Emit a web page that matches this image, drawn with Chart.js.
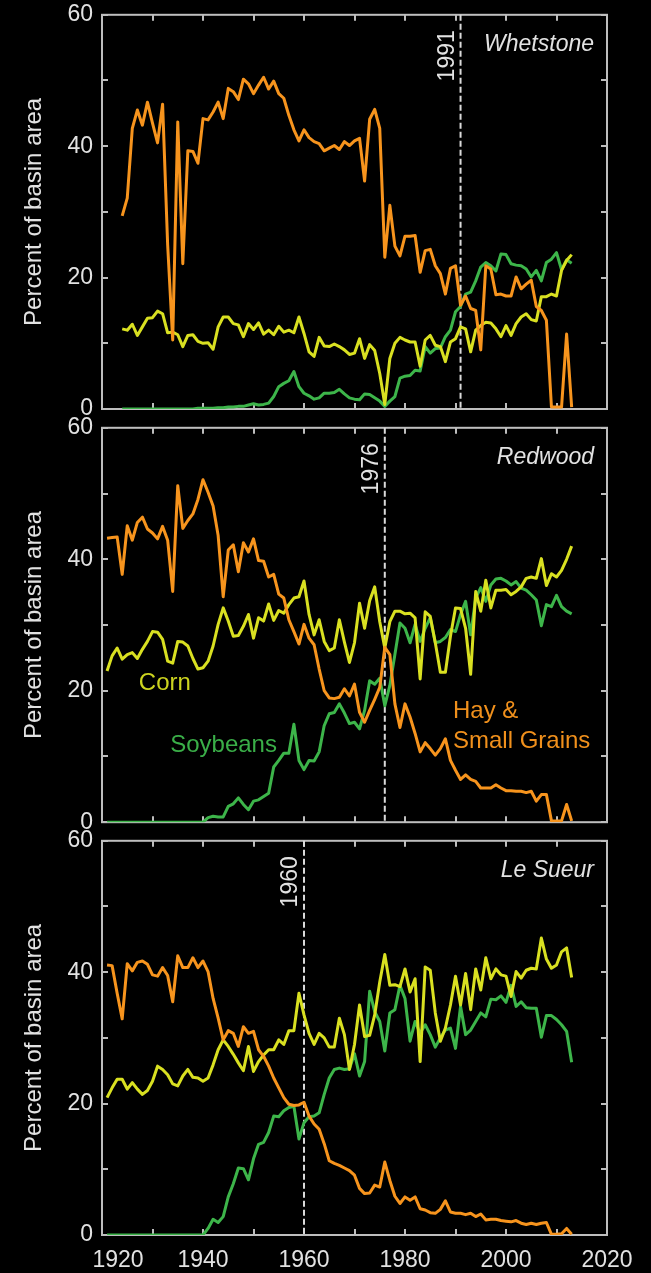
<!DOCTYPE html>
<html>
<head>
<meta charset="utf-8">
<script src="https://cdn.jsdelivr.net/npm/chart.js@4.4.1/dist/chart.umd.min.js"></script>
<style>
  html, body { margin: 0; padding: 0; background: #000; }
  body { width: 651px; height: 1273px; position: relative; overflow: hidden; }
  .panel { position: absolute; left: 0; width: 651px; }
  .panel canvas { display: block; }
</style>
</head>
<body>
<div class="panel" style="top:-8px"><canvas id="whetstone" width="651" height="440"></canvas></div>
<div class="panel" style="top:405px"><canvas id="redwood" width="651" height="440"></canvas></div>
<div class="panel" style="top:818px"><canvas id="lesueur" width="651" height="455"></canvas></div>

<script>
// Percent of basin area in hay & small grains, corn and soybeans, by year.

const HAY = '#F7941D';
const CORN = '#D9E021';
const SOY = '#3DB54A';
const FRAME = '#BEBEBE';
const TEXT = '#E2E2E2';
const FONT = '"Liberation Sans", Arial, Helvetica, sans-serif';

// ====== DATA ======

const yearsWhetstone = Array.from({ length: 90 }, (_, i) => 1924 + i);
const yearsRedwood = Array.from({ length: 93 }, (_, i) => 1921 + i);
const yearsLeSueur = Array.from({ length: 93 }, (_, i) => 1921 + i);

const hayWhetstone = [
  29.4, 32.1, 42.7, 45.5, 43.2, 46.7, 43.5, 40.5, 46.4, 25.0,
  10.5, 43.7, 22.1, 39.3, 39.2, 37.4, 44.2, 44.0, 45.2, 46.7,
  44.2, 48.8, 48.3, 47.1, 50.2, 49.5, 48.0, 49.3, 50.5, 48.7,
  49.9, 48.0, 47.3, 44.7, 42.5, 40.8, 42.5, 41.3, 40.7, 40.4,
  39.3, 39.7, 40.1, 39.5, 40.7, 40.1, 40.8, 41.2, 34.7, 44.1,
  45.6, 42.7, 23.1, 31.0, 24.8, 23.3, 26.3, 26.3, 26.4, 20.8,
  24.1, 24.3, 21.8, 20.6, 17.5, 21.4, 21.8, 15.8, 17.2, 15.3,
  15.0, 9.0, 21.8, 21.3, 17.4, 17.5, 17.2, 17.2, 20.1, 18.3,
  19.0, 19.6, 15.6, 15.0, 13.5, 0.3, 0.3, 0.3, 11.4, 0.3
];
const cornWhetstone = [
  12.2, 12.0, 12.9, 11.2, 12.5, 13.8, 13.9, 14.9, 14.5, 11.6,
  11.7, 11.3, 9.5, 11.2, 11.3, 10.3, 10.0, 10.1, 9.1, 12.5,
  14.0, 14.0, 13.0, 12.8, 11.0, 13.0, 12.1, 13.1, 11.4, 12.0,
  11.3, 12.6, 11.7, 12.0, 11.6, 14.0, 11.5, 8.7, 8.0, 10.9,
  9.6, 9.5, 9.9, 9.5, 9.0, 8.3, 8.5, 10.7, 7.7, 9.8,
  8.9, 5.4, 0.7, 7.7, 10.0, 10.9, 10.5, 10.2, 10.2, 6.5,
  10.5, 11.2, 9.7, 9.5, 7.2, 10.2, 10.7, 12.5, 12.2, 8.7,
  12.0, 12.7, 13.2, 13.1, 12.2, 11.0, 12.7, 11.2, 13.0, 14.0,
  14.5, 13.6, 13.4, 17.1, 17.1, 17.5, 17.2, 21.1, 22.6, 23.5
];
const soyWhetstone = [
  0, 0, 0, 0, 0, 0, 0, 0, 0, 0,
  0, 0, 0, 0, 0, 0.1, 0.1, 0.1, 0.1, 0.2,
  0.2, 0.3, 0.3, 0.4, 0.4, 0.6, 0.8, 0.6, 0.7, 0.9,
  1.9, 3.4, 3.9, 4.3, 5.7, 3.4, 2.4, 2.0, 1.5, 1.7,
  2.4, 2.4, 2.5, 3.0, 2.3, 1.7, 1.5, 1.4, 2.3, 2.2,
  1.7, 1.2, 0.4, 1.2, 1.9, 4.7, 5.0, 5.1, 5.9, 5.8,
  9.5, 8.5, 9.2, 9.3, 11.0, 12.0, 14.8, 15.6, 17.5, 17.8,
  19.5, 21.6, 22.3, 21.8, 21.0, 23.6, 23.5, 22.1, 21.9, 21.8,
  21.3, 20.1, 21.1, 19.5, 22.3, 22.8, 23.8, 21.2, 22.7, 22.2
];

const hayRedwood = [
  43.2, 43.3, 43.4, 37.7, 45.1, 42.9, 45.6, 46.4, 44.6, 44.0,
  43.1, 45.0, 42.9, 35.1, 51.2, 44.7, 45.9, 46.9, 49.1, 52.1,
  50.2, 48.1, 43.6, 34.3, 41.4, 42.2, 38.1, 42.5, 41.1, 43.1,
  39.8, 39.7, 37.3, 37.7, 34.7, 34.1, 30.8, 29.0, 27.1, 30.1,
  28.0, 27.0, 23.3, 20.0, 18.9, 18.8, 19.0, 20.3, 19.2, 21.0,
  16.7, 15.2, 17.0, 18.7, 20.5, 26.6, 25.5, 18.0, 14.4, 18.0,
  16.0, 13.5, 10.7, 12.1, 11.2, 10.2, 11.2, 12.7, 9.4, 7.9,
  6.5, 7.2, 6.5, 6.2, 5.2, 5.2, 5.2, 5.7, 5.2, 4.8,
  4.8, 4.7, 4.7, 4.5, 4.7, 3.2, 4.2, 4.2, 0.2, 0.2,
  0.2, 2.7, 0.2
];
const cornRedwood = [
  23.0, 25.3, 26.5, 24.8, 25.5, 25.8, 24.9, 26.3, 27.5, 29.0,
  28.9, 27.8, 24.5, 24.2, 27.5, 27.4, 26.8, 24.9, 23.3, 23.5,
  24.5, 26.8, 30.1, 32.6, 30.6, 28.3, 28.4, 29.8, 31.6, 28.0,
  31.1, 30.6, 33.2, 30.7, 32.2, 31.8, 33.1, 34.1, 34.3, 36.7,
  31.6, 28.5, 30.8, 27.5, 26.1, 26.5, 30.8, 27.4, 24.3, 27.3,
  33.3, 29.5, 33.7, 35.8, 30.5, 26.5, 30.5, 32.1, 32.1, 31.7,
  31.8, 31.1, 21.8, 32.0, 31.3, 27.3, 22.8, 22.8, 28.3, 32.6,
  32.5, 29.5, 22.5, 35.1, 32.1, 36.8, 32.6, 35.3, 35.3, 35.4,
  34.6, 35.1, 35.8, 37.1, 37.3, 37.1, 40.1, 36.0, 37.8, 37.3,
  38.3, 40.0, 42.0
];
const soyRedwood = [
  0, 0, 0, 0, 0, 0, 0, 0, 0, 0,
  0, 0, 0, 0, 0, 0, 0, 0, 0, 0,
  0.7, 0.9, 0.8, 0.8, 2.4, 2.8, 3.7, 2.7, 1.9, 3.2,
  3.4, 3.9, 4.4, 8.4, 9.4, 10.5, 10.5, 14.9, 9.4, 8.0,
  9.4, 9.3, 10.7, 14.7, 16.5, 16.7, 18.0, 16.6, 15.0, 15.2,
  14.2, 17.0, 21.5, 21.0, 21.9, 17.7, 20.8, 25.5, 30.3, 29.5,
  27.3, 30.1, 27.5, 29.5, 31.1, 27.3, 27.5, 28.1, 29.3, 29.0,
  31.6, 33.6, 28.5, 34.1, 35.7, 33.6, 36.1, 37.0, 37.1, 36.7,
  36.1, 36.6, 35.6, 35.3, 34.6, 33.8, 29.9, 33.1, 32.8, 34.5,
  32.8, 32.1, 31.7
];

const hayLeSueur = [
  41.1, 41.0, 36.8, 32.9, 41.3, 40.2, 41.5, 41.7, 41.2, 39.6,
  39.4, 40.7, 39.5, 35.5, 42.5, 40.7, 40.7, 42.2, 40.7, 41.7,
  40.1, 36.0, 33.0, 29.7, 31.1, 30.7, 28.7, 31.7, 30.7, 31.0,
  28.2, 27.2, 25.7, 23.9, 22.4, 20.9, 19.9, 19.7, 19.8, 20.2,
  18.1, 16.9, 16.1, 13.9, 11.3, 10.9, 10.6, 10.2, 9.8, 9.1,
  7.1, 6.3, 6.4, 7.6, 7.3, 11.1, 8.3, 5.9, 4.8, 5.8,
  5.3, 5.8, 4.0, 3.8, 3.4, 3.3, 3.9, 5.2, 3.5, 3.3,
  3.3, 3.1, 3.3, 2.8, 3.2, 2.3, 2.4, 2.4, 2.2, 2.1,
  2.0, 2.2, 1.8, 1.6, 1.8, 1.6, 1.8, 1.9, 0.1, 0.1,
  0.2, 1.0, 0.1
];
const cornLeSueur = [
  20.9, 22.4, 23.7, 23.7, 22.2, 23.2, 22.2, 21.4, 22.0, 23.4,
  25.7, 25.2, 24.4, 23.0, 22.7, 24.2, 25.2, 24.0, 23.9, 23.4,
  23.9, 25.9, 28.2, 29.7, 28.7, 27.5, 26.2, 25.0, 28.7, 24.9,
  26.4, 27.4, 28.2, 28.2, 29.7, 29.0, 31.1, 31.1, 36.8, 33.5,
  30.7, 29.0, 30.7, 30.0, 28.6, 28.6, 33.0, 30.5, 25.2, 29.0,
  35.0, 30.2, 30.4, 33.5, 38.5, 42.7, 38.0, 38.1, 37.8, 40.5,
  37.0, 39.0, 26.4, 40.8, 40.3, 33.8, 29.5, 31.5, 35.0, 39.4,
  35.0, 39.8, 34.3, 40.5, 37.3, 42.2, 39.0, 40.5, 39.6, 39.4,
  36.3, 40.1, 39.1, 40.3, 40.6, 40.5, 45.2, 42.0, 40.6, 41.1,
  43.1, 43.7, 39.2
];
const soyLeSueur = [
  0, 0, 0, 0, 0, 0, 0, 0, 0, 0,
  0, 0, 0, 0, 0, 0, 0, 0, 0, 0,
  1.0, 2.4, 1.9, 2.8, 5.8, 7.8, 10.2, 10.1, 8.4, 11.6,
  13.8, 14.1, 15.6, 18.1, 18.0, 18.9, 19.4, 19.6, 14.6, 17.1,
  18.0, 18.1, 18.6, 21.4, 23.9, 25.2, 25.4, 25.2, 25.3, 27.6,
  24.2, 26.4, 37.1, 34.0, 32.5, 28.0, 33.8, 34.3, 38.0, 36.0,
  29.5, 32.5, 30.7, 32.0, 30.5, 28.6, 30.0, 31.2, 31.5, 28.4,
  34.8, 30.5, 31.2, 32.5, 33.8, 33.2, 35.9, 35.8, 36.4, 35.4,
  38.0, 34.8, 35.5, 34.6, 34.5, 34.5, 30.1, 33.4, 33.4, 32.8,
  32.0, 31.0, 26.3
];

const yTicks = [0, 20, 40, 60];
const xTicks = [1920, 1940, 1960, 1980, 2000, 2020];

// ====== PLUGINS ======

// rámeček, dovnitř mířící tick značky a čárkovaná čára roku (pod daty)
const frameTicks = {
  id: 'frameTicks',
  beforeDatasetsDraw(chart, args, opts) {
    const { ctx, chartArea: a, scales: { x, y } } = chart;
    ctx.save();
    ctx.strokeStyle = FRAME;
    ctx.lineWidth = 2;
    ctx.strokeRect(a.left, a.top, a.right - a.left, a.bottom - a.top);
    ctx.beginPath();
    for (const t of y.ticks) {
      const py = Math.round(y.getPixelForValue(t.value));
      ctx.moveTo(a.left, py); ctx.lineTo(a.left + 6, py);
      ctx.moveTo(a.right, py); ctx.lineTo(a.right - 6, py);
    }
    for (const t of x.ticks) {
      const px = Math.round(x.getPixelForValue(t.value));
      ctx.moveTo(px, a.top); ctx.lineTo(px, a.top + 6);
      ctx.moveTo(px, a.bottom); ctx.lineTo(px, a.bottom - 6);
    }
    ctx.stroke();

    const yr = chart.options.plugins.panelNotes.year;
    const lx = x.getPixelForValue(yr);
    ctx.strokeStyle = '#DADADA';
    ctx.lineWidth = 2;
    ctx.setLineDash([6, 3]);
    ctx.beginPath();
    ctx.moveTo(lx, a.top);
    ctx.lineTo(lx, a.bottom);
    ctx.stroke();
    ctx.restore();
  }
};

const panelNotes = {
  id: 'panelNotes',
  afterDatasetsDraw(chart, args, opts) {
    const { ctx, chartArea: a, scales: { x, y } } = chart;
    ctx.save();

    const lx = x.getPixelForValue(opts.year);
    ctx.save();
    ctx.translate(lx - 13, a.top + 41);
    ctx.rotate(-Math.PI / 2);
    ctx.fillStyle = TEXT;
    ctx.font = `23px ${FONT}`;
    ctx.textAlign = 'center';
    ctx.textBaseline = 'middle';
    ctx.fillText(String(opts.year), 0, 0);
    ctx.restore();

    // název povodí
    ctx.fillStyle = TEXT;
    ctx.font = `italic 23px ${FONT}`;
    ctx.textAlign = 'right';
    ctx.textBaseline = 'alphabetic';
    ctx.fillText(opts.name, a.right - 13, a.top + 36);

    // popisky sérií (jen Redwood)
    for (const lab of opts.labels || []) {
      ctx.fillStyle = lab.color;
      ctx.font = `24px ${FONT}`;
      ctx.textAlign = 'left';
      ctx.fillText(lab.text, x.getPixelForValue(lab.x), y.getPixelForValue(lab.y));
    }
    ctx.restore();
  }
};

// ====== CHARTS ======

function series(years, values) {
  return years.map((yr, i) => ({ x: yr, y: values[i] }));
}

function makePanel(id, years, hay, corn, soy, notes, showX, xHeight) {
  const tickFont = { family: FONT, size: 23 };
  return new Chart(document.getElementById(id), {
    type: 'line',
    data: {
      datasets: [
        { label: 'Hay & Small Grains', data: series(years, hay), borderColor: HAY },
        { label: 'Corn', data: series(years, corn), borderColor: CORN },
        { label: 'Soybeans', data: series(years, soy), borderColor: SOY },
      ]
    },
    options: {
      responsive: false,
      animation: false,
      layout: { padding: { top: 20, right: 44, bottom: 0, left: 0 } },
      elements: {
        point: { radius: 0 },
        line: { borderWidth: 3, tension: 0, fill: false, borderJoinStyle: 'round' }
      },
      plugins: {
        legend: { display: false },
        tooltip: { enabled: false },
        panelNotes: notes
      },
      scales: {
        x: {
          type: 'linear', min: 1920, max: 2020,
          grid: { display: false, drawTicks: false },
          border: { display: false },
          ticks: {
            display: showX, stepSize: 10, autoSkip: false, maxRotation: 0,
            padding: 12, color: TEXT, font: tickFont,
            callback: v => xTicks.includes(v) ? (v === 1920 ? '     1920' : String(v)) : ''
          },
          afterFit: s => { s.height = xHeight; }
        },
        y: {
          min: 0, max: 60,
          grid: { display: false, drawTicks: false },
          border: { display: false },
          ticks: {
            stepSize: 10, padding: 9, color: TEXT, font: tickFont,
            callback: v => yTicks.includes(v) ? String(v) : ''
          },
          title: {
            display: true, text: 'Percent of basin area', color: TEXT,
            font: { family: FONT, size: 24 }, padding: { top: 20, bottom: 0 }
          },
          afterFit: s => { s.width = 102; }
        }
      }
    },
    plugins: [frameTicks, panelNotes]
  });
}

makePanel('whetstone', yearsWhetstone, hayWhetstone, cornWhetstone, soyWhetstone,
  { year: 1991, name: 'Whetstone' }, false, 23);

makePanel('redwood', yearsRedwood, hayRedwood, cornRedwood, soyRedwood,
  {
    year: 1976, name: 'Redwood',
    labels: [
      { text: 'Corn', x: 1927.3, y: 20.1, color: '#CDD41F' },
      { text: 'Soybeans', x: 1933.5, y: 10.7, color: '#3AAE48' },
      { text: 'Hay &', x: 1989.5, y: 15.8, color: '#F0901C' },
      { text: 'Small Grains', x: 1989.5, y: 11.3, color: '#F0901C' },
    ]
  }, false, 22);

makePanel('lesueur', yearsLeSueur, hayLeSueur, cornLeSueur, soyLeSueur,
  { year: 1960, name: 'Le Sueur' }, true, 38);
</script>
</body>
</html>
